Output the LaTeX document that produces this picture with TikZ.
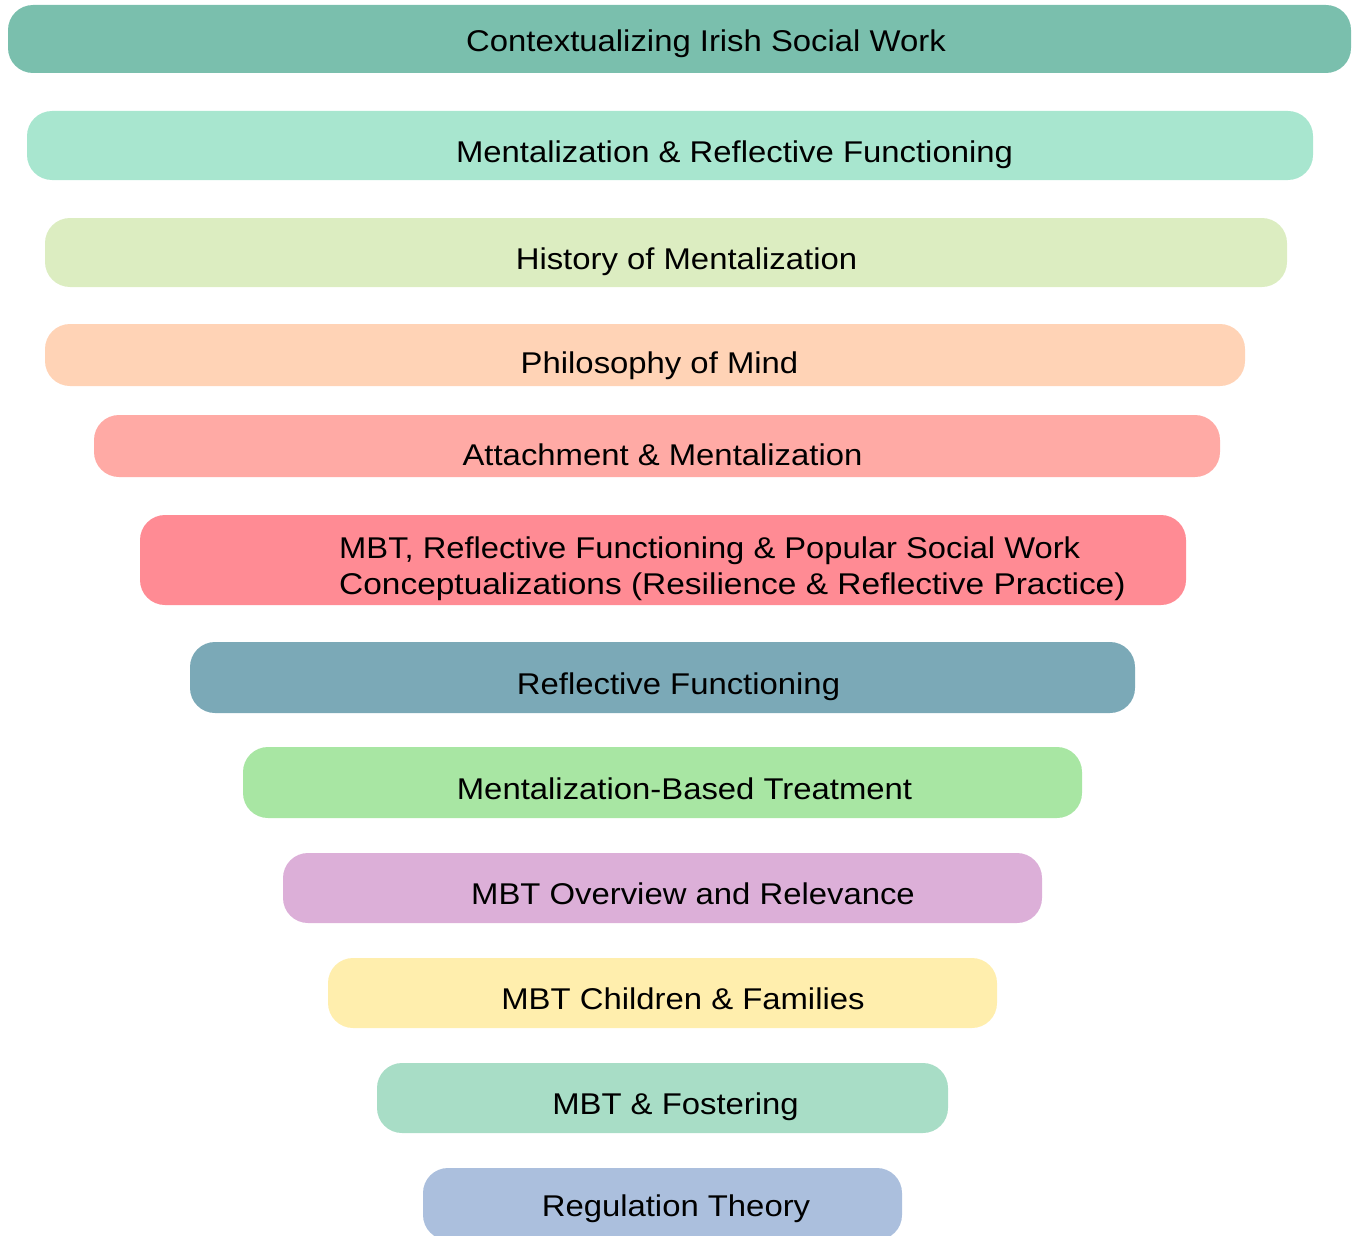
\documentclass[tikz,border=0pt]{standalone}
\usepackage{graphicx}
\usepackage{fontspec}
\setmainfont{Liberation Sans}
% labels are set slightly wide
\newcommand\widetext[2][1.095]{\scalebox{#1}[1]{#2}}
\begin{document}
\begin{tikzpicture}[x=1pt,y=-1pt,
  band/.style={rounded corners=25pt, draw=none},
  lbl/.style={anchor=base, font=\fontsize{30}{36}\selectfont, inner sep=0pt, text=black}]
\definecolor{c1}{HTML}{7ABFAD}
\definecolor{c2}{HTML}{A8E6CF}
\definecolor{c3}{HTML}{DCEDC1}
\definecolor{c4}{HTML}{FFD3B6}
\definecolor{c5}{HTML}{FFAAA5}
\definecolor{c6}{HTML}{FF8B94}
\definecolor{c7}{HTML}{7BA9B7}
\definecolor{c8}{HTML}{A8E6A3}
\definecolor{c9}{HTML}{DCAFD8}
\definecolor{c10}{HTML}{FFEEAD}
\definecolor{c11}{HTML}{A8DDC6}
\definecolor{c12}{HTML}{ABBFDD}
\useasboundingbox (0,0) rectangle (1360,1236);
\begin{scope}
\clip (0,0) rectangle (1360,1236);
\fill[band, c1]  (8,5)     rectangle (1351,73);
\fill[band, c2]  (27,111)  rectangle (1313,180);
\fill[band, c3]  (45,218)  rectangle (1287,287);
\fill[band, c4]  (45,324)  rectangle (1245,386);
\fill[band, c5]  (94,415)  rectangle (1220,477);
\fill[band, c6]  (140,515) rectangle (1186,605);
\fill[band, c7]  (190,642) rectangle (1135,713);
\fill[band, c8]  (243,747) rectangle (1082,818);
\fill[band, c9]  (283,853) rectangle (1042,923);
\fill[band, c10] (328,958) rectangle (997,1028);
\fill[band, c11] (377,1063) rectangle (948,1133);
\fill[band, c12] (423,1168) rectangle (902,1240);
\end{scope}
\node[lbl] (t1) at (706,51.5) {\widetext{Contextualizing Irish Social Work}};
\node[lbl] (t2) at (734.5,162) {\widetext{Mentalization \& Reflective Functioning}};
\node[lbl] (t3) at (686.5,269) {\widetext{History of Mentalization}};
\node[lbl] (t4) at (659.5,373) {\widetext{Philosophy of Mind}};
\node[lbl] (t5) at (662.5,465) {\widetext{Attachment \& Mentalization}};
\node[lbl, anchor=base west] (t6a) at (339,558) {\widetext[1.09]{MBT, Reflective Functioning \& Popular Social Work}};
\node[lbl, anchor=base west] (t6b) at (339,594) {\widetext[1.115]{Conceptualizations (Resilience \& Reflective Practice)}};
\node[lbl] (t7) at (678.5,694) {\widetext{Reflective Functioning}};
\node[lbl] (t8) at (684.5,799) {\widetext{Mentalization-Based Treatment}};
\node[lbl] (t9) at (693,904) {\widetext{MBT Overview and Relevance}};
\node[lbl] (t10) at (683,1009) {\widetext{MBT Children \& Families}};
\node[lbl] (t11) at (675.5,1114) {\widetext{MBT \& Fostering}};
\node[lbl] (t12) at (676,1216.5) {\widetext{Regulation Theory}};
\end{tikzpicture}
\end{document}
